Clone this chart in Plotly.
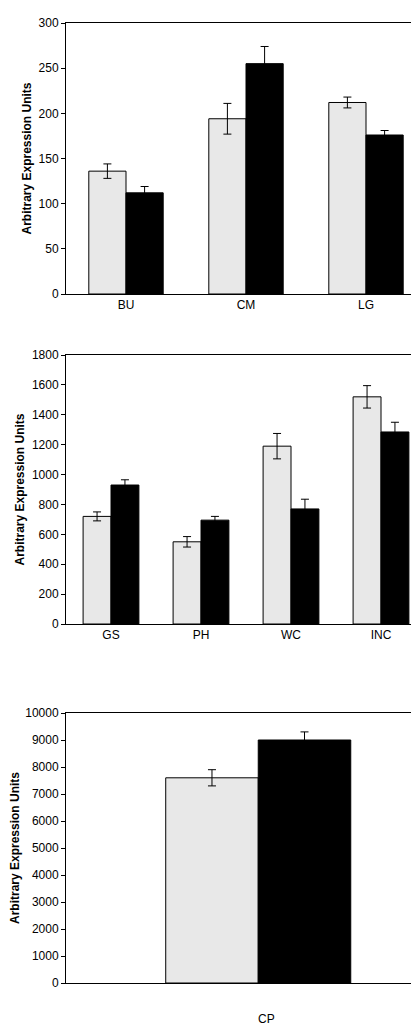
import plotly.graph_objects as go
from plotly.subplots import make_subplots

cats1 = ["BU", "CM", "LG"]
light1 = [136, 194, 212]
light1_err = [8, 17, 6]
dark1 = [112, 255, 176]
dark1_err = [7, 19, 5]

cats2 = ["GS", "PH", "WC", "INC"]
light2 = [720, 550, 1190, 1520]
light2_err = [30, 35, 85, 75]
dark2 = [930, 695, 770, 1285]
dark2_err = [35, 25, 65, 65]

cats3 = ["CP"]
light3 = [7600]
light3_err = [300]
dark3 = [9000]
dark3_err = [300]

H = 1036
fig = make_subplots(rows=3, cols=1)

# (cats, light, light err, dark, dark err, bar width, shift, y range, dtick)
panels = [
    (cats1, light1, light1_err, dark1, dark1_err, 0.31, 0, [0, 300], 50),
    (cats2, light2, light2_err, dark2, dark2_err, 0.31, 0, [0, 1800], 200),
    (cats3, light3, light3_err, dark3, dark3_err, 0.257, 0.034, [0, 10000], 1000),
]
for i, (c, l, le, d, de, w, sh, rng, dt) in enumerate(panels, start=1):
    for vals, errs, col, off in [(l, le, "#e8e8e8", -w + sh), (d, de, "black", sh)]:
        fig.add_trace(go.Bar(
            x=c, y=vals, width=w, offset=off,
            marker=dict(color=col, line=dict(color="black", width=1)),
            error_y=dict(type="data", array=errs, color="black", thickness=1, width=4),
            showlegend=False), row=i, col=1)
    fig.update_yaxes(range=rng, dtick=dt, row=i, col=1)

# pixel domains
ydoms = [(15, 286), (347, 616), (705, 975)]
for i, (t, b) in enumerate(ydoms, start=1):
    fig.update_yaxes(domain=[1 - b / H, 1 - t / H], row=i, col=1)
    fig.update_xaxes(domain=[58 / 419, 418 / 419], row=i, col=1)

fig.update_xaxes(showline=True, linecolor="black", linewidth=1, mirror=True,
                 ticks="", showgrid=False, automargin=False,
                 tickfont=dict(size=12, color="black"))
fig.update_yaxes(showline=True, linecolor="black", linewidth=1, mirror=True,
                 ticks="outside", ticklen=4, tickcolor="black", showgrid=False,
                 zeroline=False, tickformat="d", automargin=False,
                 tickfont=dict(size=12, color="black"),
                 title=dict(text="<b>Arbitrary Expression Units</b>",
                            font=dict(size=12, color="black"), standoff=4))
fig.update_xaxes(showticklabels=False, row=3, col=1)
fig.add_annotation(text="CP", x=258 / 419, y=1 - 1020 / H, xref="paper", yref="paper",
                   showarrow=False, font=dict(size=12, color="black"))

fig.update_layout(width=419, height=H, margin=dict(l=0, r=0, t=0, b=0),
                  plot_bgcolor="white", paper_bgcolor="white",
                  font=dict(family="Liberation Sans, Arial", color="black"))
fig.write_html("out.html")
